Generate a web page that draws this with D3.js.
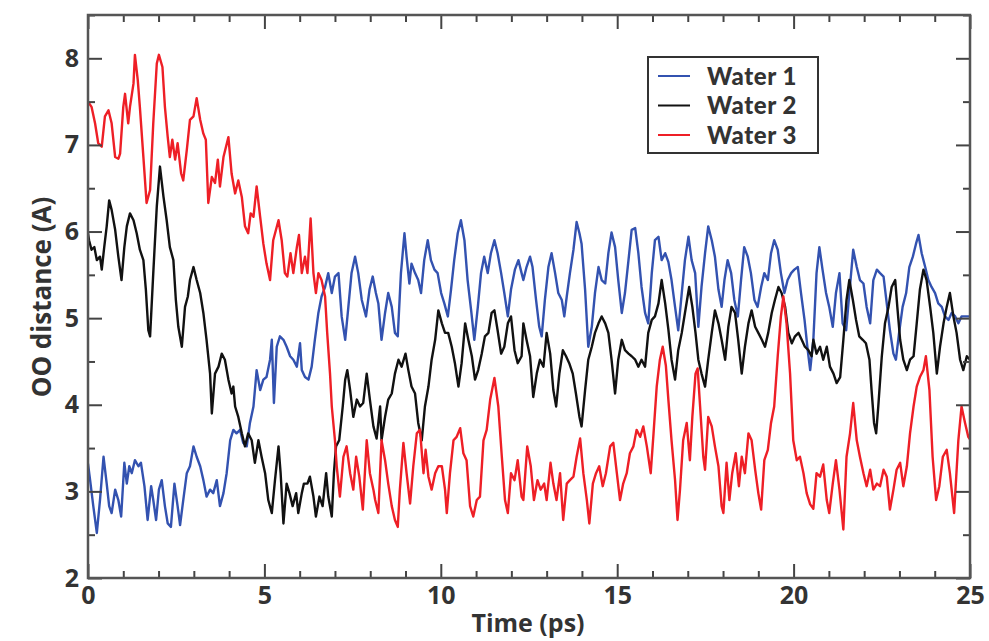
<!DOCTYPE html>
<html>
<head>
<meta charset="utf-8">
<script src="https://cdn.jsdelivr.net/npm/d3@7"></script>
<style>
  body { margin: 0; background: #fff; }
  svg { display: block; }
  text { font-family: "Open Sans", "DejaVu Sans", sans-serif; font-weight: 700; fill: #333; }
</style>
</head>
<body>
<svg id="chart"></svg>
<script>
// OO distance vs time: [time ps, distance A]
const water1 = [[0,3.32],[0.06,3.13],[0.15,2.83],[0.25,2.52],[0.34,2.90],[0.44,3.40],[0.53,3.09],[0.60,2.83],[0.67,2.75],[0.77,3.02],[0.86,2.90],[0.94,2.71],[1.03,3.33],[1.10,3.09],[1.17,3.29],[1.24,3.21],[1.33,3.36],[1.43,3.29],[1.50,3.33],[1.60,3.06],[1.69,2.67],[1.79,3.06],[1.85,2.90],[1.93,2.67],[2.01,3.02],[2.09,3.13],[2.18,2.83],[2.26,2.63],[2.35,2.59],[2.45,3.09],[2.54,2.83],[2.61,2.61],[2.70,2.90],[2.80,3.21],[2.89,3.29],[2.99,3.52],[3.08,3.40],[3.18,3.29],[3.27,3.13],[3.36,2.94],[3.46,3.02],[3.55,2.98],[3.65,3.13],[3.74,2.83],[3.84,2.98],[3.93,3.21],[4.03,3.59],[4.12,3.71],[4.21,3.67],[4.31,3.71],[4.40,3.56],[4.50,3.52],[4.59,3.79],[4.69,3.98],[4.78,4.40],[4.88,4.17],[4.97,4.29],[5.06,4.32],[5.16,4.52],[5.21,4.75],[5.27,4.02],[5.35,4.67],[5.44,4.79],[5.54,4.75],[5.63,4.67],[5.73,4.56],[5.82,4.52],[5.92,4.44],[6.01,4.71],[6.06,4.40],[6.15,4.32],[6.25,4.29],[6.34,4.44],[6.43,4.75],[6.53,5.06],[6.62,5.25],[6.72,5.36],[6.81,5.52],[6.91,5.29],[7.00,5.48],[7.10,5.52],[7.19,5.02],[7.29,4.75],[7.38,5.13],[7.47,5.52],[7.57,5.71],[7.66,5.52],[7.76,5.21],[7.88,5.02],[7.98,5.33],[8.07,5.48],[8.16,5.29],[8.23,5.17],[8.32,4.75],[8.42,5.06],[8.51,5.29],[8.61,5.13],[8.70,4.83],[8.78,4.79],[8.87,5.52],[8.97,5.98],[9.03,5.71],[9.11,5.40],[9.17,5.63],[9.27,5.52],[9.36,5.44],[9.44,5.29],[9.53,5.67],[9.63,5.90],[9.72,5.67],[9.82,5.56],[9.91,5.52],[10.01,5.29],[10.10,5.17],[10.20,5.02],[10.29,5.33],[10.38,5.67],[10.48,5.98],[10.57,6.13],[10.67,5.90],[10.76,5.44],[10.86,5.09],[10.95,4.75],[11.05,5.13],[11.14,5.52],[11.23,5.71],[11.33,5.52],[11.42,5.75],[11.52,5.90],[11.61,5.75],[11.71,5.52],[11.80,5.29],[11.90,5.02],[11.99,5.33],[12.10,5.56],[12.20,5.67],[12.29,5.52],[12.34,5.44],[12.43,5.59],[12.53,5.71],[12.60,5.59],[12.70,5.21],[12.79,4.90],[12.86,4.79],[12.95,5.21],[13.05,5.59],[13.14,5.75],[13.24,5.52],[13.33,5.29],[13.43,5.21],[13.50,5.02],[13.57,5.25],[13.66,5.52],[13.76,5.79],[13.85,6.11],[13.93,5.98],[13.99,5.86],[14.09,5.33],[14.18,4.67],[14.28,4.90],[14.37,5.29],[14.47,5.59],[14.56,5.44],[14.66,5.40],[14.75,5.75],[14.84,5.99],[14.94,5.82],[15.03,5.44],[15.13,5.06],[15.22,5.29],[15.32,5.67],[15.41,6.02],[15.51,6.04],[15.60,5.75],[15.69,5.36],[15.79,5.06],[15.88,4.94],[15.98,5.52],[16.07,5.90],[16.17,5.94],[16.26,5.67],[16.36,5.75],[16.45,5.65],[16.54,5.44],[16.64,5.13],[16.73,4.86],[16.83,5.29],[16.92,5.67],[17.02,5.94],[17.11,5.67],[17.21,5.52],[17.30,4.90],[17.39,5.36],[17.49,5.75],[17.58,6.06],[17.68,5.90],[17.77,5.71],[17.87,5.33],[17.96,5.13],[18.04,5.44],[18.13,5.67],[18.23,5.52],[18.32,5.21],[18.42,5.02],[18.51,5.44],[18.60,5.82],[18.70,5.71],[18.79,5.52],[18.89,5.21],[18.98,5.13],[19.08,5.36],[19.17,5.52],[19.27,5.44],[19.36,5.75],[19.45,5.90],[19.55,5.79],[19.64,5.52],[19.74,5.29],[19.83,5.44],[19.93,5.52],[20.02,5.56],[20.12,5.59],[20.21,5.29],[20.31,4.98],[20.40,4.63],[20.47,4.40],[20.56,4.75],[20.65,5.52],[20.73,5.82],[20.82,5.56],[20.92,5.29],[21.01,5.13],[21.11,4.90],[21.20,5.29],[21.30,5.52],[21.39,4.94],[21.49,4.86],[21.58,5.29],[21.69,5.79],[21.79,5.59],[21.88,5.44],[21.98,5.40],[22.07,5.13],[22.17,4.94],[22.26,5.44],[22.36,5.56],[22.45,5.52],[22.55,5.48],[22.64,5.17],[22.73,4.86],[22.83,4.59],[22.90,4.52],[22.99,4.83],[23.09,5.13],[23.19,5.29],[23.28,5.59],[23.38,5.71],[23.47,5.86],[23.54,5.96],[23.63,5.75],[23.73,5.59],[23.82,5.44],[23.91,5.36],[24.01,5.29],[24.10,5.17],[24.20,5.13],[24.29,5.02],[24.39,4.98],[24.48,5.06],[24.58,5.02],[24.67,4.94],[24.76,5.02],[24.86,5.02],[25,5.02]];

const water2 = [[0,5.98],[0.03,5.90],[0.10,5.79],[0.18,5.82],[0.25,5.67],[0.34,5.71],[0.39,5.56],[0.46,5.82],[0.53,6.06],[0.60,6.36],[0.67,6.25],[0.77,6.02],[0.86,5.71],[0.95,5.44],[1.03,5.82],[1.10,6.06],[1.19,6.21],[1.29,6.13],[1.38,5.98],[1.47,5.79],[1.57,5.67],[1.64,5.33],[1.71,4.86],[1.76,4.79],[1.85,5.52],[1.95,6.29],[2.04,6.75],[2.14,6.40],[2.23,6.13],[2.32,5.82],[2.42,5.67],[2.49,5.21],[2.56,4.90],[2.66,4.67],[2.75,5.13],[2.83,5.25],[2.89,5.44],[2.99,5.59],[3.08,5.44],[3.18,5.29],[3.27,5.06],[3.36,4.75],[3.46,4.36],[3.51,3.90],[3.60,4.36],[3.70,4.44],[3.79,4.59],[3.88,4.52],[3.98,4.29],[4.07,4.13],[4.12,4.21],[4.17,3.98],[4.26,3.86],[4.36,3.67],[4.45,3.52],[4.54,3.67],[4.64,3.59],[4.73,3.33],[4.83,3.59],[4.92,3.40],[5.02,3.21],[5.11,2.90],[5.21,2.75],[5.30,3.13],[5.40,3.52],[5.46,3.21],[5.54,2.63],[5.63,3.09],[5.71,2.98],[5.80,2.83],[5.90,2.98],[5.96,2.75],[6.06,2.98],[6.12,3.09],[6.22,3.09],[6.29,3.17],[6.39,2.94],[6.46,2.71],[6.56,2.94],[6.65,2.83],[6.75,3.21],[6.81,2.94],[6.91,2.71],[6.97,3.21],[7.03,3.52],[7.12,3.59],[7.22,3.98],[7.29,4.29],[7.35,4.40],[7.43,4.17],[7.52,3.86],[7.62,4.06],[7.71,3.98],[7.80,4.02],[7.90,4.36],[7.99,4.06],[8.09,3.75],[8.18,3.61],[8.28,3.98],[8.32,3.59],[8.42,3.86],[8.51,4.06],[8.61,4.13],[8.70,4.36],[8.80,4.52],[8.89,4.44],[9.00,4.59],[9.08,4.40],[9.17,4.21],[9.27,4.13],[9.36,3.79],[9.46,3.59],[9.55,3.98],[9.65,4.21],[9.74,4.52],[9.84,4.75],[9.93,5.09],[10.03,4.94],[10.12,4.83],[10.21,4.83],[10.31,4.67],[10.40,4.48],[10.50,4.21],[10.59,4.48],[10.69,4.94],[10.78,4.75],[10.88,4.56],[10.97,4.29],[11.06,4.40],[11.16,4.59],[11.25,4.79],[11.35,4.83],[11.44,5.06],[11.52,5.09],[11.61,4.86],[11.71,4.59],[11.80,4.67],[11.90,4.94],[11.99,5.02],[12.09,4.63],[12.18,4.48],[12.29,4.56],[12.34,4.94],[12.43,4.75],[12.53,4.56],[12.62,4.09],[12.72,4.36],[12.81,4.52],[12.91,4.44],[13.00,4.83],[13.10,4.59],[13.19,4.17],[13.27,3.98],[13.36,4.36],[13.46,4.63],[13.55,4.56],[13.64,4.48],[13.74,4.36],[13.83,4.13],[13.93,3.86],[13.99,3.75],[14.09,4.17],[14.18,4.52],[14.28,4.67],[14.37,4.83],[14.47,4.94],[14.56,5.02],[14.66,4.94],[14.75,4.83],[14.84,4.52],[14.94,4.13],[15.03,4.52],[15.13,4.75],[15.22,4.63],[15.32,4.59],[15.41,4.56],[15.51,4.52],[15.60,4.44],[15.69,4.52],[15.79,4.44],[15.88,4.83],[15.98,4.98],[16.07,5.02],[16.17,5.17],[16.26,5.44],[16.36,5.17],[16.45,4.87],[16.54,4.52],[16.64,4.29],[16.73,4.63],[16.83,4.83],[16.92,5.06],[17.04,5.36],[17.13,5.13],[17.22,4.83],[17.30,4.52],[17.39,4.36],[17.49,4.21],[17.58,4.52],[17.68,4.83],[17.77,5.09],[17.87,4.94],[17.96,4.75],[18.06,4.52],[18.15,4.90],[18.24,5.13],[18.34,5.06],[18.43,4.75],[18.53,4.36],[18.62,4.67],[18.72,4.94],[18.81,5.09],[18.91,4.90],[19.00,4.83],[19.10,4.75],[19.19,4.67],[19.28,4.83],[19.38,5.06],[19.47,5.21],[19.57,5.36],[19.66,5.29],[19.76,5.13],[19.85,4.83],[19.95,4.71],[20.04,4.79],[20.14,4.83],[20.23,4.75],[20.32,4.67],[20.42,4.63],[20.51,4.56],[20.56,4.75],[20.65,4.59],[20.75,4.67],[20.84,4.52],[20.94,4.67],[21.03,4.44],[21.13,4.36],[21.22,4.25],[21.32,4.32],[21.41,4.75],[21.50,5.21],[21.58,5.44],[21.68,5.21],[21.77,4.98],[21.86,4.79],[21.96,4.75],[22.05,4.71],[22.15,4.52],[22.21,4.17],[22.28,3.79],[22.34,3.67],[22.40,3.98],[22.50,4.56],[22.59,4.94],[22.69,5.13],[22.78,5.36],[22.88,5.44],[22.94,5.13],[23.02,4.75],[23.11,4.52],[23.21,4.40],[23.30,4.52],[23.40,4.56],[23.49,4.94],[23.58,5.33],[23.68,5.56],[23.77,5.44],[23.87,5.13],[23.96,4.83],[24.06,4.36],[24.15,4.67],[24.25,4.94],[24.34,5.13],[24.43,5.29],[24.53,5.02],[24.62,4.83],[24.72,4.52],[24.81,4.40],[24.91,4.56],[25,4.52]];

const water3 = [[0,7.50],[0.10,7.44],[0.20,7.25],[0.29,7.02],[0.39,6.98],[0.48,7.33],[0.58,7.40],[0.67,7.25],[0.77,6.86],[0.86,6.84],[0.91,6.90],[1.00,7.44],[1.05,7.59],[1.14,7.25],[1.19,7.44],[1.29,7.71],[1.33,8.04],[1.41,7.75],[1.47,7.44],[1.57,6.86],[1.66,6.33],[1.76,6.48],[1.85,7.25],[1.95,7.94],[2.01,8.04],[2.11,7.90],[2.18,7.44],[2.26,7.09],[2.32,6.86],[2.39,7.06],[2.47,6.83],[2.54,7.02],[2.64,6.67],[2.70,6.59],[2.80,6.94],[2.89,7.29],[2.99,7.33],[3.08,7.54],[3.18,7.29],[3.27,7.13],[3.34,7.06],[3.41,6.33],[3.51,6.63],[3.60,6.56],[3.68,6.83],[3.74,6.52],[3.84,6.86],[3.98,7.09],[4.07,6.67],[4.17,6.44],[4.26,6.59],[4.36,6.40],[4.45,6.06],[4.54,5.98],[4.61,6.21],[4.69,6.17],[4.78,6.52],[4.88,6.17],[4.97,5.86],[5.06,5.63],[5.16,5.44],[5.25,5.90],[5.40,6.13],[5.49,5.90],[5.58,5.52],[5.65,5.48],[5.74,5.75],[5.82,5.52],[5.92,5.82],[5.98,5.96],[6.06,5.52],[6.15,5.71],[6.22,5.52],[6.31,6.15],[6.39,5.52],[6.46,5.29],[6.53,5.52],[6.62,5.44],[6.72,5.25],[6.78,4.83],[6.86,4.36],[6.91,3.98],[7.00,3.59],[7.05,3.29],[7.14,2.94],[7.24,3.40],[7.33,3.52],[7.43,3.21],[7.52,3.02],[7.60,3.40],[7.69,3.17],[7.79,2.79],[7.90,3.59],[7.99,3.21],[8.09,3.02],[8.14,2.90],[8.23,2.75],[8.32,3.59],[8.42,3.36],[8.51,3.09],[8.61,2.83],[8.70,2.67],[8.78,2.59],[8.84,3.02],[8.94,3.56],[9.03,3.21],[9.13,2.86],[9.22,3.29],[9.32,3.67],[9.41,3.71],[9.51,3.21],[9.57,3.48],[9.65,3.17],[9.74,3.02],[9.84,3.21],[9.93,3.29],[10.03,3.29],[10.12,3.02],[10.17,2.75],[10.26,3.21],[10.36,3.59],[10.45,3.63],[10.55,3.73],[10.64,3.44],[10.73,3.36],[10.83,2.83],[10.92,2.71],[11.02,2.90],[11.11,2.94],[11.21,3.59],[11.30,3.71],[11.40,4.06],[11.52,4.31],[11.63,3.98],[11.73,3.40],[11.82,2.90],[11.90,2.75],[11.99,3.21],[12.09,3.13],[12.18,3.36],[12.29,2.94],[12.34,2.90],[12.45,3.52],[12.55,3.29],[12.64,2.90],[12.74,3.13],[12.83,3.02],[12.93,3.09],[13.00,2.90],[13.11,3.33],[13.19,3.09],[13.28,2.90],[13.38,3.21],[13.47,2.67],[13.57,3.09],[13.66,3.13],[13.76,3.17],[13.85,3.40],[13.95,3.61],[14.04,3.21],[14.14,2.90],[14.21,2.63],[14.31,3.09],[14.40,3.21],[14.49,3.29],[14.59,3.06],[14.68,3.21],[14.80,3.52],[14.89,3.56],[14.99,3.21],[15.08,2.90],[15.17,3.09],[15.27,3.21],[15.36,3.44],[15.46,3.52],[15.55,3.71],[15.65,3.63],[15.74,3.75],[15.84,3.52],[15.95,3.21],[16.03,3.67],[16.12,4.21],[16.21,4.52],[16.29,4.67],[16.38,4.45],[16.45,4.06],[16.54,3.59],[16.64,3.13],[16.71,2.67],[16.78,3.02],[16.87,3.59],[16.97,3.79],[17.06,3.36],[17.13,3.86],[17.22,4.36],[17.28,4.42],[17.35,3.98],[17.44,3.40],[17.49,3.25],[17.58,3.86],[17.68,3.75],[17.77,3.52],[17.87,3.29],[17.96,2.83],[18.01,2.75],[18.10,3.33],[18.18,2.90],[18.26,3.21],[18.36,3.44],[18.45,3.06],[18.53,3.40],[18.62,3.21],[18.72,3.67],[18.81,3.59],[18.91,3.25],[19.00,2.98],[19.08,2.79],[19.17,3.36],[19.27,3.48],[19.36,3.79],[19.45,3.98],[19.55,4.56],[19.64,5.02],[19.71,5.25],[19.80,4.94],[19.90,4.36],[19.99,3.59],[20.09,3.36],[20.18,3.40],[20.28,3.21],[20.37,2.98],[20.47,2.85],[20.56,2.80],[20.65,3.21],[20.75,3.17],[20.84,3.31],[20.94,2.90],[21.01,2.75],[21.11,3.09],[21.20,3.36],[21.30,3.02],[21.41,2.56],[21.50,3.40],[21.60,3.67],[21.69,4.02],[21.79,3.59],[21.88,3.40],[21.98,3.21],[22.07,3.06],[22.17,3.25],[22.26,3.02],[22.36,3.09],[22.45,3.06],[22.55,3.25],[22.64,3.17],[22.73,2.79],[22.83,3.02],[22.92,3.25],[23.02,3.33],[23.11,3.06],[23.21,3.29],[23.30,3.67],[23.40,3.98],[23.49,4.21],[23.58,4.32],[23.68,4.40],[23.75,4.56],[23.85,4.17],[23.94,3.40],[24.04,2.90],[24.13,3.06],[24.23,3.40],[24.34,3.48],[24.43,3.21],[24.55,2.75],[24.67,3.59],[24.76,3.98],[24.86,3.79],[24.95,3.63],[25,3.60]];

const seriesNames = ['Water 1', 'Water 2', 'Water 3'];
const seriesColors = ['#3352b0', '#111111', '#ee1f26'];
const xTicks = [0, 5, 10, 15, 20, 25];
const yTicks = [2, 3, 4, 5, 6, 7, 8];

const width = 989, height = 641;
const svg = d3.select('#chart').attr('width', width).attr('height', height);

const x = d3.scaleLinear().domain([0, 25]).range([88, 970]);
const y = d3.scaleLinear().domain([2, 8.5]).range([578, 15]);

const xMinor = d3.range(0, 25.5, 1).filter(d => d % 5 !== 0);
const yMinor = d3.range(2, 8.6, 0.5).filter(d => d % 1 !== 0);

svg.append('clipPath').attr('id', 'plot-clip')
  .append('rect')
  .attr('x', x(0)).attr('y', y(8.5))
  .attr('width', x(25) - x(0)).attr('height', y(2) - y(8.5));

// data lines (water 3 ends up on top)
const line = d3.line().x(d => x(d[0])).y(d => y(d[1]));
const lines = svg.append('g').attr('clip-path', 'url(#plot-clip)');
[water1, water2, water3].forEach((s, i) => {
  lines.append('path')
    .datum(s)
    .attr('d', line)
    .attr('fill', 'none')
    .attr('stroke', seriesColors[i])
    .attr('stroke-width', 2.4)
    .attr('stroke-linejoin', 'round');
});

// ticks point inward on all four sides
function tickGroup(axis, tx, ty, size, vals, labels) {
  const g = svg.append('g')
    .attr('transform', `translate(${tx},${ty})`)
    .call(axis.tickValues(vals).tickSizeInner(-size).tickSizeOuter(0)
      .tickFormat(labels ? d3.format('d') : ''));
  g.select('.domain').remove();
  g.selectAll('line').attr('stroke', '#444').attr('stroke-width', 2);
  return g;
}

const bottom = tickGroup(d3.axisBottom(x).tickPadding(8), 0, y(2), 14, xTicks, true);
tickGroup(d3.axisBottom(x), 0, y(2), 7, xMinor, false);
tickGroup(d3.axisTop(x), 0, y(8.5), 14, xTicks, false);
tickGroup(d3.axisTop(x), 0, y(8.5), 7, xMinor, false);
const left = tickGroup(d3.axisLeft(y).tickPadding(9), x(0), 0, 14, yTicks, true);
tickGroup(d3.axisLeft(y), x(0), 0, 7, yMinor, false);
tickGroup(d3.axisRight(y), x(25), 0, 14, yTicks, false);
tickGroup(d3.axisRight(y), x(25), 0, 7, yMinor, false);

[bottom, left].forEach(g => g.selectAll('text')
  .attr('font-size', 25)
  .style('font-family', '"Open Sans", sans-serif')
  .style('font-weight', 700)
  .attr('fill', '#333'));

// frame
svg.append('rect')
  .attr('x', x(0)).attr('y', y(8.5))
  .attr('width', x(25) - x(0)).attr('height', y(2) - y(8.5))
  .attr('fill', 'none')
  .attr('stroke', '#555')
  .attr('stroke-width', 2.5);

// axis titles
svg.append('text')
  .attr('x', 528).attr('y', 632)
  .attr('text-anchor', 'middle')
  .attr('font-size', 25)
  .text('Time (ps)');

svg.append('text')
  .attr('transform', 'translate(51,297) rotate(-90)')
  .attr('text-anchor', 'middle')
  .attr('font-size', 26)
  .text('OO distance (A)');

// legend
const legend = svg.append('g').attr('transform', 'translate(648,57)');
legend.append('rect')
  .attr('width', 170).attr('height', 96)
  .attr('fill', '#fff')
  .attr('stroke', '#333')
  .attr('stroke-width', 2);

seriesNames.forEach((name, i) => {
  const ry = 19 + i * 29.5;
  legend.append('line')
    .attr('x1', 10).attr('x2', 42)
    .attr('y1', ry).attr('y2', ry)
    .attr('stroke', seriesColors[i])
    .attr('stroke-width', 2);
  legend.append('text')
    .attr('x', 59).attr('y', ry + 8.5)
    .style('font-family', 'Lato, sans-serif')
    .style('font-weight', 900)
    .attr('font-size', 24)
    .attr('letter-spacing', 0.6)
    .text(name);
});
</script>
</body>
</html>
